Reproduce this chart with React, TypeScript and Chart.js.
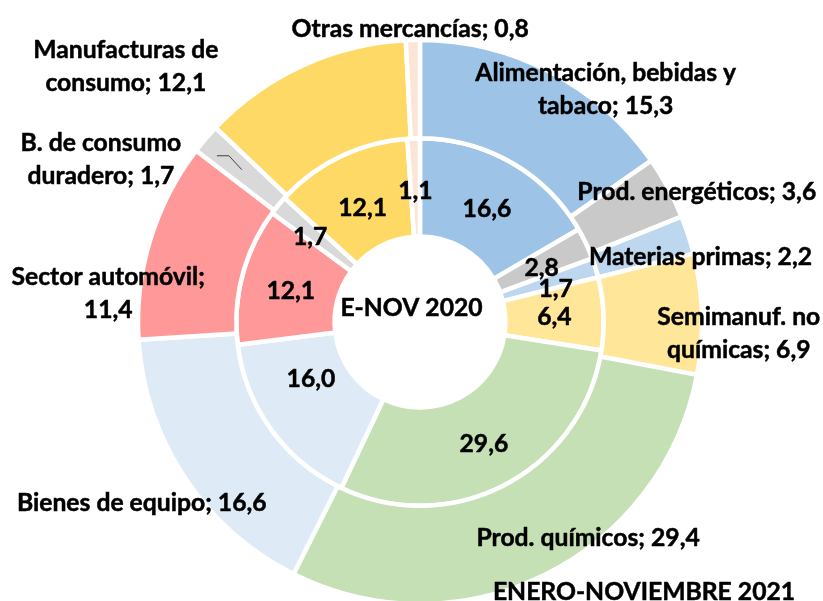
import React, { useEffect, useRef } from "react";
import { Chart, registerables } from "chart.js";

Chart.register(...registerables);

// ---- data ----
const categories = [
  "Alimentación, bebidas y\ntabaco",
  "Prod. energéticos",
  "Materias primas",
  "Semimanuf. no\nquímicas",
  "Prod. químicos",
  "Bienes de equipo",
  "Sector automóvil",
  "B. de consumo\nduradero",
  "Manufacturas de\nconsumo",
  "Otras mercancías",
];
const values2021 = [15.3, 3.6, 2.2, 6.9, 29.4, 16.6, 11.4, 1.7, 12.1, 0.8];
const values2020 = [16.6, 2.8, 1.7, 6.4, 29.6, 16.0, 12.1, 1.7, 12.1, 1.1];
const valueOnOwnLine = [false, false, false, false, false, false, true, false, false, false];
const centerTitle = "E-NOV 2020";
const outerTitle = "ENERO-NOVIEMBRE 2021";

// ---- styles ----
const colors = [
  "#9DC3E6",
  "#C9C9C9",
  "#BDD7EE",
  "#FFE699",
  "#C5E0B4",
  "#DEEBF7",
  "#FF9999",
  "#D9D9D9",
  "#FFD966",
  "#FBE5D6",
];
const outerLabelOffsets: [number, number][] = [
  [78, -27], [72, -20], [59, 6], [86, 17], [65, 6],
  [-84, 52], [-89, 38], [-142, -12], [-197, -45], [-4, -61],
];
const innerLabelOffsets: [number, number][] = [
  [0, 3], [0, 3], [7, 6], [0, 0], [1, 2],
  [0, -23], [1, 2], [-6, 0], [1, 6], [0, 3],
];
const leaderIndex = 7;
const leaderOffsets: [number, number][] = [[-26, -15], [-14, -15], [-1, -1]];
const centerTitleOffset: [number, number] = [-8.5, -15];
const outerTitleOffset: [number, number] = [224, 269];
const FONT_SIZE = 24.7;
const LINE_H = 33;
const CAP = FONT_SIZE * 0.717;
const FONT = `bold ${FONT_SIZE}px Lato, "Open Sans", sans-serif`;

const fmt = (v: number) => v.toFixed(1).replace(".", ",");

const labelPlugin = {
  id: "ringLabels",
  afterDatasetsDraw(chart: any) {
    const ctx: CanvasRenderingContext2D = chart.ctx;
    const area = chart.chartArea;
    const cx = (area.left + area.right) / 2;
    const cy = (area.top + area.bottom) / 2;
    ctx.save();
    ctx.font = FONT;
    ctx.fillStyle = "#000";
    ctx.strokeStyle = "#000";
    ctx.lineWidth = 0.5;
    ctx.lineJoin = "round";
    ctx.textAlign = "center";
    ctx.textBaseline = "alphabetic";
    const drawBlock = (lines: string[], x: number, y: number) => {
      const n = lines.length;
      lines.forEach((l, i) => {
        const mid = y + (i - (n - 1) / 2) * LINE_H;
        ctx.fillText(l, x, mid + CAP / 2);
        ctx.strokeText(l, x, mid + CAP / 2);
      });
    };
    const outer = chart.getDatasetMeta(0).data;
    outer.forEach((arc: any, i: number) => {
      const p = arc.getCenterPoint();
      const text = categories[i] + ";" + (valueOnOwnLine[i] ? "\n" : " ") + fmt(values2021[i]);
      const [dx, dy] = outerLabelOffsets[i];
      drawBlock(text.split("\n"), p.x + dx, p.y + dy);
      if (i === leaderIndex) {
        ctx.save();
        ctx.strokeStyle = "#404040";
        ctx.lineWidth = 1;
        ctx.beginPath();
        leaderOffsets.forEach(([lx, ly], k) => {
          if (k === 0) ctx.moveTo(p.x + lx, p.y + ly);
          else ctx.lineTo(p.x + lx, p.y + ly);
        });
        ctx.stroke();
        ctx.restore();
      }
    });
    const inner = chart.getDatasetMeta(1).data;
    inner.forEach((arc: any, i: number) => {
      const p = arc.getCenterPoint();
      const [dx, dy] = innerLabelOffsets[i];
      drawBlock([fmt(values2020[i])], p.x + dx, p.y + dy);
    });
    drawBlock([centerTitle], cx + centerTitleOffset[0], cy + centerTitleOffset[1]);
    drawBlock([outerTitle], cx + outerTitleOffset[0], cy + outerTitleOffset[1]);
    ctx.restore();
  },
};

export default function App() {
  const ref = useRef<HTMLCanvasElement | null>(null);
  useEffect(() => {
    if (!ref.current) return;
    const chart = new Chart(ref.current, {
      type: "doughnut",
      data: {
        labels: categories.map((c) => c.replace("\n", " ")),
        datasets: [
          {
            data: values2021,
            backgroundColor: colors,
            borderColor: "#FFFFFF",
            borderWidth: 4.5,
          },
          {
            data: values2020,
            backgroundColor: colors,
            borderColor: "#FFFFFF",
            borderWidth: 4.5,
          },
        ],
      },
      options: {
        responsive: false,
        animation: false,
        radius: 282,
        cutout: "30.3%",
        layout: { padding: { left: 17, right: 0, top: 43, bottom: 0 } },
        plugins: {
          legend: { display: false },
          tooltip: { enabled: false },
          title: { display: false },
        },
      } as any,
      plugins: [labelPlugin],
    });
    return () => chart.destroy();
  }, []);
  return (
    <div style={{ position: "absolute", left: 0, top: 0, width: 823, height: 601, background: "#fff" }}>
      <canvas ref={ref} width={823} height={601} />
    </div>
  );
}
